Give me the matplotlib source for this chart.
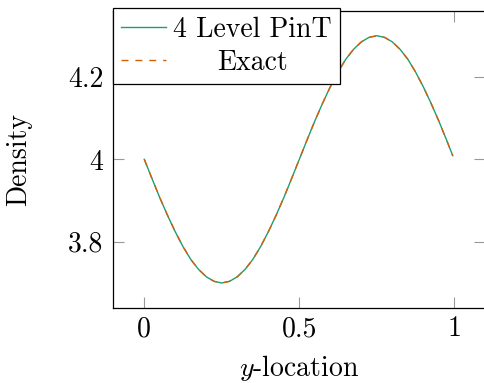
import matplotlib
matplotlib.use("Agg")
import matplotlib.pyplot as plt

plt.rcParams['font.family'] = 'serif'
plt.rcParams['font.serif'] = ['cmr10', 'DejaVu Serif']
plt.rcParams['mathtext.fontset'] = 'cm'
plt.rcParams['axes.formatter.use_mathtext'] = True
plt.rcParams['axes.unicode_minus'] = False

# Data
y_loc = [0.0, 0.025, 0.05, 0.075, 0.1, 0.125, 0.15, 0.175, 0.2, 0.225,
         0.25, 0.275, 0.3, 0.325, 0.35, 0.375, 0.4, 0.425, 0.45, 0.475,
         0.5, 0.525, 0.55, 0.575, 0.6, 0.625, 0.65, 0.675, 0.7, 0.725,
         0.75, 0.775, 0.8, 0.825, 0.85, 0.875, 0.9, 0.925, 0.95, 0.975, 0.995]
density_pint = [4.000, 3.953, 3.907, 3.864, 3.824, 3.788, 3.757, 3.733, 3.715, 3.704,
                3.700, 3.704, 3.715, 3.733, 3.757, 3.788, 3.824, 3.864, 3.907, 3.953,
                4.000, 4.047, 4.093, 4.136, 4.176, 4.212, 4.243, 4.267, 4.285, 4.296,
                4.300, 4.296, 4.285, 4.267, 4.243, 4.212, 4.176, 4.136, 4.093, 4.047, 4.009]
density_exact = [4.000, 3.953, 3.907, 3.864, 3.824, 3.788, 3.757, 3.733, 3.715, 3.704,
                 3.700, 3.704, 3.715, 3.733, 3.757, 3.788, 3.824, 3.864, 3.907, 3.953,
                 4.000, 4.047, 4.093, 4.136, 4.176, 4.212, 4.243, 4.267, 4.285, 4.296,
                 4.300, 4.296, 4.285, 4.267, 4.243, 4.212, 4.176, 4.136, 4.093, 4.047, 4.009]
x_ticks = [0, 0.5, 1]
x_ticklabels = ['0', '0.5', '1']
y_ticks = [3.8, 4.0, 4.2]
y_ticklabels = ['3.8', '4', '4.2']
labels = ['4 Level PinT', 'Exact']

W, H = 484, 383
fig = plt.figure(figsize=(W / 100, H / 100), dpi=100)
ax = fig.add_axes([113.3 / W, (H - 307.7) / H, 372 / W, 296.7 / H])

FS = 20
ax.plot(y_loc, density_pint, color='#1b9e77', lw=1.0, label=labels[0])
ax.plot(y_loc, density_exact, color='#d95f02', lw=1.0, dashes=[5, 5], label=labels[1])

ax.set_xlim(-0.1, 1.1)
ax.set_ylim(3.64, 4.36)
ax.set_xticks(x_ticks)
ax.set_xticklabels(x_ticklabels)
ax.set_yticks(y_ticks)
ax.set_yticklabels(y_ticklabels)
ax.tick_params(direction='in', length=8, width=0.8, color='#999999',
               labelsize=FS, top=True, right=True, pad=7)
ax.tick_params(axis='x', pad=6)
for s in ax.spines.values():
    s.set_linewidth(0.9)
    s.set_color('black')

ax.set_xlabel('$y$-location', fontsize=FS, labelpad=8)
ax.set_ylabel('Density', fontsize=FS, labelpad=26)

leg = ax.legend(loc='upper left', bbox_to_anchor=(113 / W, 1 - 8 / H),
                bbox_transform=fig.transFigure, fontsize=FS, frameon=True,
                fancybox=False, framealpha=1, edgecolor='black',
                borderaxespad=0, borderpad=0.3, handlelength=1.6,
                handletextpad=0.25, labelspacing=0.25)
leg.get_frame().set_linewidth(0.9)
leg.set_zorder(10)

# center the shorter label within the legend column
fig.canvas.draw()
r = fig.canvas.get_renderer()
texts = leg.get_texts()
widths = [t.get_window_extent(r).width for t in texts]
try:
    col = leg._legend_handle_box.get_children()[0]
    rows = col.get_children()
    maxw = max(widths)
    for row, w in zip(rows, widths):
        row.sep += (maxw - w) / 2 * 72 / fig.dpi
except Exception:
    pass

fig.savefig('out.png', dpi=100)
